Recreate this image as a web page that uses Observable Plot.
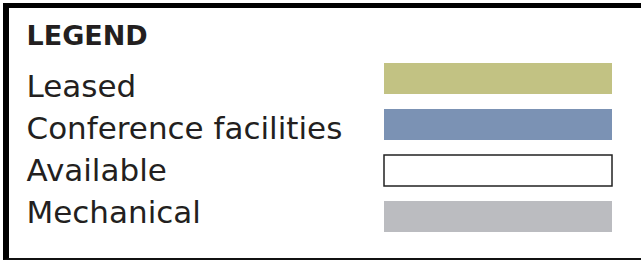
<!DOCTYPE html>
<html><head><meta charset="utf-8">
<script src="https://cdn.jsdelivr.net/npm/d3@7"></script>
<script src="https://cdn.jsdelivr.net/npm/@observablehq/plot@0.6"></script>
<style>
html,body{margin:0;padding:0;background:#fff;}
#wrap{position:relative;width:641px;height:261px;overflow:hidden}
#border{position:absolute;left:3px;top:3px;width:660px;height:257px;box-sizing:border-box;border-left:6px solid #000;border-top:5px solid #000;border-bottom:2px solid #111;}
.layer{position:absolute;left:0;top:0}
</style></head>
<body><div id="wrap"><div id="border"></div><div id="swatches" class="layer"></div><div id="labels" class="layer"></div></div>
<script>
const title = "LEGEND";
const categories = ["Leased", "Conference facilities", "Available", "Mechanical"];
const fills = ["#c2c283", "#7b92b4", "#ffffff", "#bbbcc0"];
const outlined = ["Available"];

const data = categories.map((c, i) => ({category: c, fill: fills[i]}));

// Swatches
const swatches = Plot.plot({
  width: 641, height: 261,
  marginLeft: 26, marginTop: 25, marginRight: 29, marginBottom: 28,
  x: {domain: [0, 1], range: [384, 612], axis: null},
  y: {type: "band", domain: categories, range: [62, 233], paddingInner: 0.336, paddingOuter: 0, axis: null},
  style: {fontFamily: "DejaVu Sans", background: "transparent"},
  marks: [
    Plot.barX(data, {x1: 0, x2: 1, y: "category", fill: "fill"}),
    Plot.barX(data.filter(d => outlined.includes(d.category)), {x1: 0, x2: 1, y: "category", fill: "none", stroke: "#222", strokeWidth: 1.5})
  ]
});
document.getElementById("swatches").append(swatches);

// Labels and title (own row spacing)
const labels = Plot.plot({
  width: 641, height: 261,
  marginLeft: 26, marginTop: 25, marginRight: 29, marginBottom: 28,
  y: {type: "point", domain: categories, range: [86.5, 214], padding: 0, axis: null},
  style: {fontFamily: "DejaVu Sans", background: "transparent"},
  marks: [
    Plot.text(data, {y: "category", text: "category", frameAnchor: "left", textAnchor: "start", fontSize: 31, fill: "#231f20"}),
    Plot.text([title], {text: d => d, frameAnchor: "top-left", textAnchor: "start", lineAnchor: "top", fontSize: 27, fontWeight: "bold", fill: "#231f20"})
  ]
});
document.getElementById("labels").append(labels);
</script>
</body></html>
